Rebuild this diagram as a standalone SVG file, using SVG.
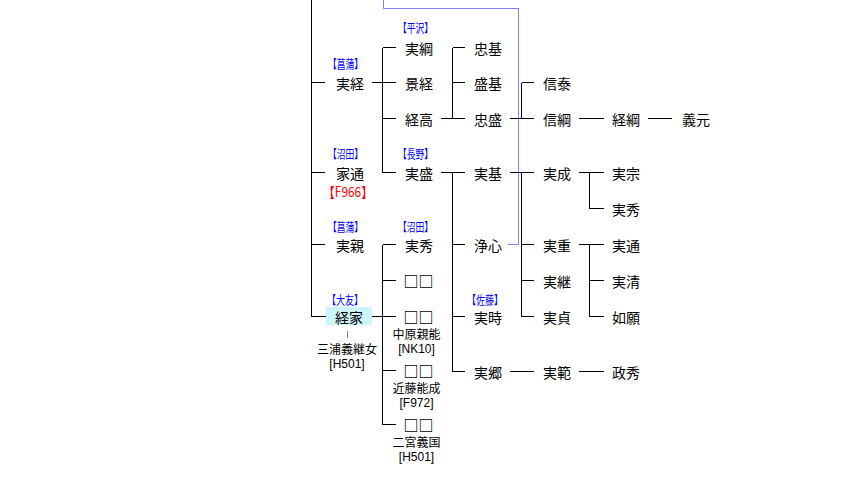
<svg xmlns="http://www.w3.org/2000/svg" width="867" height="485" viewBox="0 0 867 485">
<style>
.n{font-family:"Noto Sans CJK JP","DejaVu Sans",sans-serif;font-size:14px;text-anchor:middle;fill:#000}
.q{font-family:"Noto Sans CJK JP","DejaVu Sans",sans-serif;font-size:15px;font-weight:bold;text-anchor:middle;fill:#000}
.b{font-family:"Noto Sans CJK JP","DejaVu Sans",sans-serif;font-size:12px;fill:#0000ff}
.s{font-family:"Noto Sans CJK JP","DejaVu Sans",sans-serif;font-size:12px;text-anchor:middle;fill:#000}
.l{font-family:"Liberation Sans",Arial,sans-serif;font-size:12px;text-anchor:middle;fill:#000}
.r{font-family:"Noto Sans CJK JP","Liberation Sans",sans-serif;font-size:14px;fill:#ff0000}
.c{fill:none;stroke:#000;stroke-width:1;shape-rendering:crispEdges}
.bl{fill:none;stroke:#8080ff;stroke-width:1;shape-rendering:crispEdges}
.g{fill:none;stroke:#808080;stroke-width:1;shape-rendering:crispEdges}
</style>
<rect width="867" height="485" fill="#fff"/>
<g id="connectors">
<path class="bl" d="M383.5,0V8.5H518.5V244.5H508"/>
<path class="c" d="M311.5,0V316.5H326M311.5,82.5H325M311.5,172.5H325M311.5,244.5H325"/>
<path class="c" d="M372,82.5H396M382.5,47.5V172.5H396M382.5,47.5H396M382.5,118.5H396"/>
<path class="c" d="M441,118.5H465M452.5,47.5V118.5M452.5,47.5H465M452.5,82.5H465"/>
<path class="c" d="M510,118.5H534M521.5,82.5V118.5M521.5,82.5H534"/>
<path class="c" d="M579,118.5H604M648,118.5H672"/>
<path class="c" d="M441,172.5H465M452.5,172.5V371.5H465M452.5,244.5H465M452.5,316.5H465"/>
<path class="c" d="M510,172.5H534M521.5,172.5V316.5H534M521.5,244.5H534M521.5,280.5H534"/>
<path class="c" d="M579,172.5H604M589.5,172.5V208.5H604"/>
<path class="c" d="M579,244.5H604M589.5,244.5V316.5H604M589.5,280.5H604"/>
<path class="c" d="M510,371.5H534M579,371.5H604"/>
<path class="c" d="M372,316.5H396M382.5,244.5V424.5H396M382.5,244.5H396M382.5,280.5H396M382.5,370.5H396"/>
<path class="g" d="M347.5,331V338"/>
</g>
<g id="n-sanetsune"><text class="b" x="328" y="68.6" textLength="35" lengthAdjust="spacingAndGlyphs">【菖蒲】</text><text class="n" x="350" y="88.5">実経</text></g>
<g id="n-sanetsuna"><text class="b" x="398" y="32.6" textLength="35" lengthAdjust="spacingAndGlyphs">【平沢】</text><text class="n" x="419" y="53.5">実綱</text></g>
<g id="n-kagetsune"><text class="n" x="419" y="88.5">景経</text></g>
<g id="n-tsunetaka"><text class="n" x="419" y="124.5">経高</text></g>
<g id="n-tadamoto"><text class="n" x="488" y="53.5">忠基</text></g>
<g id="n-morimoto"><text class="n" x="488" y="88.5">盛基</text></g>
<g id="n-tadamori"><text class="n" x="488" y="124.5">忠盛</text></g>
<g id="n-nobuyasu"><text class="n" x="557" y="88.5">信泰</text></g>
<g id="n-nobutsuna"><text class="n" x="557" y="124.5">信綱</text></g>
<g id="n-tsunetsuna"><text class="n" x="626" y="124.5">経綱</text></g>
<g id="n-yoshimoto"><text class="n" x="696" y="124.5">義元</text></g>
<g id="n-iemichi"><text class="b" x="328" y="158.6" textLength="35" lengthAdjust="spacingAndGlyphs">【沼田】</text><text class="n" x="350" y="178.5">家通</text><text class="r" x="323" y="197.3" textLength="50" lengthAdjust="spacingAndGlyphs">【F966】</text></g>
<g id="n-sanemori"><text class="b" x="398" y="158.6" textLength="35" lengthAdjust="spacingAndGlyphs">【長野】</text><text class="n" x="419" y="178.5">実盛</text></g>
<g id="n-sanemoto"><text class="n" x="488" y="178.5">実基</text></g>
<g id="n-sanenari"><text class="n" x="557" y="178.5">実成</text></g>
<g id="n-sanemune"><text class="n" x="626" y="178.5">実宗</text></g>
<g id="n-sanehide2"><text class="n" x="626" y="214.5">実秀</text></g>
<g id="n-sanechika"><text class="b" x="328" y="231.6" textLength="35" lengthAdjust="spacingAndGlyphs">【菖蒲】</text><text class="n" x="350" y="250.5">実親</text></g>
<g id="n-sanehide"><text class="b" x="398" y="231.6" textLength="35" lengthAdjust="spacingAndGlyphs">【沼田】</text><text class="n" x="419" y="250.5">実秀</text></g>
<g id="n-joshin"><text class="n" x="488" y="250.5">浄心</text></g>
<g id="n-saneshige"><text class="n" x="557" y="250.5">実重</text></g>
<g id="n-sanemichi"><text class="n" x="626" y="250.5">実通</text></g>
<g id="n-unknown1"><text class="q" x="418.5" y="287">□□</text></g>
<g id="n-sanetsugu"><text class="n" x="557" y="286.5">実継</text></g>
<g id="n-sanekiyo"><text class="n" x="626" y="286.5">実清</text></g>
<g id="n-tsuneie"><text class="b" x="327" y="304.6" textLength="36" lengthAdjust="spacingAndGlyphs">【大友】</text><rect x="326" y="307" width="46" height="18" fill="#ccf5fa"/><text class="n" x="349" y="322.5">経家</text><text class="s" x="347" y="353.6">三浦義継女</text><text class="l" x="347" y="368.3">[H501]</text></g>
<g id="n-unknown2"><text class="q" x="418.5" y="323">□□</text><text class="s" x="416.5" y="339">中原親能</text><text class="l" x="416.5" y="352.5">[NK10]</text></g>
<g id="n-sanetoki"><text class="b" x="467" y="304.6" textLength="36" lengthAdjust="spacingAndGlyphs">【佐藤】</text><text class="n" x="488" y="322.5">実時</text></g>
<g id="n-sanesada"><text class="n" x="557" y="322.5">実貞</text></g>
<g id="n-nyogan"><text class="n" x="626" y="322.5">如願</text></g>
<g id="n-unknown3"><text class="q" x="418.5" y="377">□□</text><text class="s" x="416.5" y="393">近藤能成</text><text class="l" x="416.5" y="406.5">[F972]</text></g>
<g id="n-sanesato"><text class="n" x="488" y="377.5">実郷</text></g>
<g id="n-sanenori"><text class="n" x="557" y="377.5">実範</text></g>
<g id="n-masahide"><text class="n" x="626" y="377.5">政秀</text></g>
<g id="n-unknown4"><text class="q" x="418.5" y="431">□□</text><text class="s" x="416.5" y="447">二宮義国</text><text class="l" x="416.5" y="460.5">[H501]</text></g>
</svg>
